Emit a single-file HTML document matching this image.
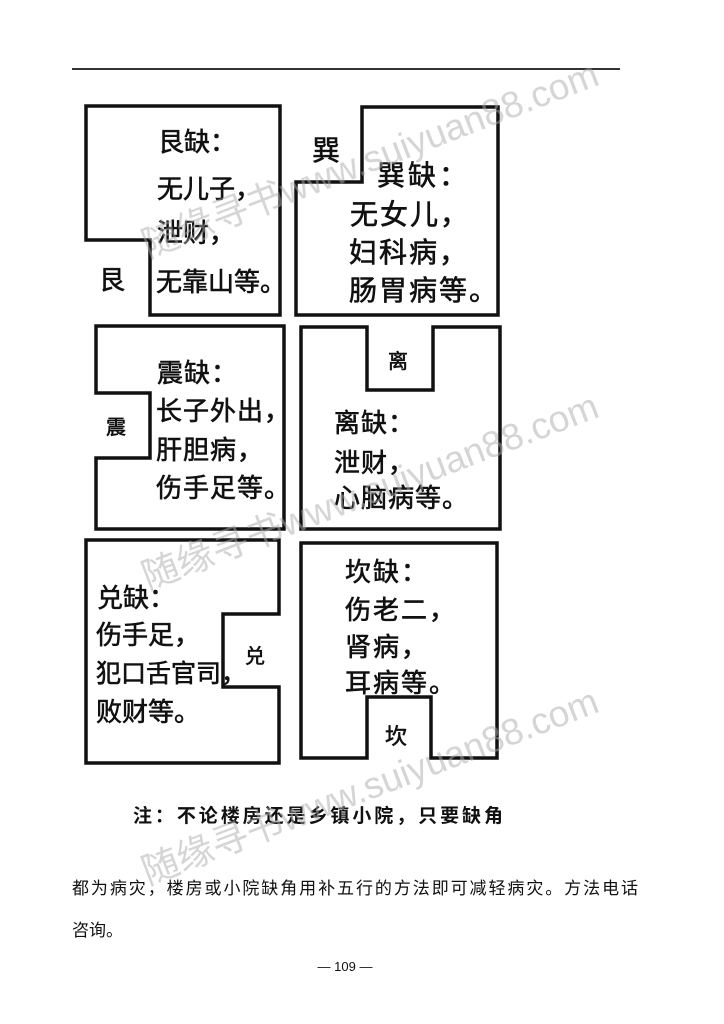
<!DOCTYPE html>
<html><head><meta charset="utf-8"><style>
html,body{margin:0;padding:0;background:#fff}
svg{display:block}
text{font-family:"Liberation Sans","Noto Sans CJK SC",sans-serif;fill:#111}
.b text{stroke:#111;stroke-width:0.6}
</style></head><body>
<svg width="724" height="1024" viewBox="0 0 724 1024" xmlns="http://www.w3.org/2000/svg">
<rect width="724" height="1024" fill="#fff"/>
<line x1="72" y1="69" x2="620" y2="69" stroke="#333" stroke-width="2"/>
<g fill="none" stroke="#111" stroke-width="3.5" stroke-linejoin="miter">
<polygon points="86,106 280,106 280,315 150,315 150,240 86,240"/>
<polygon points="362,107 498,107 498,315 296,315 296,182 362,182"/>
<polygon points="96,326 284,326 284,529 96,529 96,458 150,458 150,393 96,393"/>
<polygon points="301,327 367,327 367,390 433,390 433,327 500,327 500,529 301,529"/>
<polygon points="86,540 279,540 279,614 223,614 223,687 279,687 279,763 86,763"/>
<polygon points="301,543 497,543 497,758 431,758 431,697 367,697 367,758 301,758"/>
</g>
<g class="b">
<g font-size="26">
<text x="158" y="151">艮缺：</text>
<text x="157" y="198">无儿子，</text>
<text x="157" y="242">泄财，</text>
<text x="156" y="291">无靠山等。</text>
<text x="99" y="289">艮</text>
</g>
<g font-size="28">
<text x="312" y="160">巽</text>
<text x="377" y="185" letter-spacing="3">巽缺：</text>
<text x="350" y="224" letter-spacing="2">无女儿，</text>
<text x="349" y="262" letter-spacing="2">妇科病，</text>
<text x="349" y="300" letter-spacing="2">肠胃病等。</text>
</g>
<g font-size="26">
<text x="157" y="382" letter-spacing="1">震缺：</text>
<text x="156" y="420" letter-spacing="1">长子外出，</text>
<text x="156" y="459" letter-spacing="1">肝胆病，</text>
<text x="156" y="497" letter-spacing="1">伤手足等。</text>
<text x="106" y="434" font-size="20">震</text>
<text x="388" y="368" font-size="20">离</text>
<text x="334" y="432" letter-spacing="1">离缺：</text>
<text x="334" y="472" letter-spacing="1">泄财，</text>
<text x="334" y="507" letter-spacing="1">心脑病等。</text>
</g>
<g font-size="26">
<text x="97" y="607">兑缺：</text>
<text x="96" y="644">伤手足，</text>
<text x="96" y="682" font-size="25">犯口舌官司，</text>
<text x="96" y="721">败财等。</text>
<text x="245" y="663" font-size="20">兑</text>
<text x="345" y="581" letter-spacing="2">坎缺：</text>
<text x="345" y="619" letter-spacing="2">伤老二，</text>
<text x="345" y="656" letter-spacing="2">肾病，</text>
<text x="345" y="692" letter-spacing="2">耳病等。</text>
<text x="385" y="744" font-size="22">坎</text>
</g>
</g>
<text x="133" y="822" font-size="19" font-weight="bold" textLength="370">注：不论楼房还是乡镇小院，只要缺角</text>
<text x="72" y="894" font-size="17" textLength="566">都为病灾，楼房或小院缺角用补五行的方法即可减轻病灾。方法电话</text>
<text x="72" y="936" font-size="17">咨询。</text>
<text x="345" y="971" font-size="13" text-anchor="middle">— 109 —</text>
<g font-size="37" opacity="0.5">
<text x="148" y="258" transform="rotate(-21 148 258)" style="fill:#aaa">随缘寻书www.suiyuan88.com</text>
<text x="148" y="590" transform="rotate(-21 148 590)" style="fill:#aaa">随缘寻书www.suiyuan88.com</text>
<text x="148" y="885" transform="rotate(-21 148 885)" style="fill:#aaa">随缘寻书www.suiyuan88.com</text>
</g>
</svg>
</body></html>
